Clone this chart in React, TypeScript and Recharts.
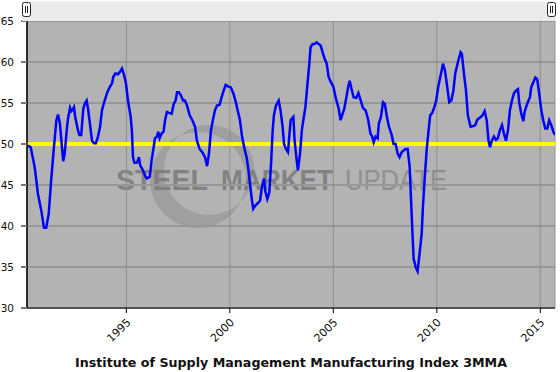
import React from 'react';
import { LineChart, Line, XAxis, YAxis, CartesianGrid, ReferenceLine } from 'recharts';

// ISM Manufacturing Index, 3-month moving average (decimal year, index value)
const years: number[] = [
  1990.25, 1990.38, 1990.57, 1990.73, 1990.89, 1991.02, 1991.13, 1991.25, 1991.38, 1991.50,
  1991.62, 1991.70, 1991.79, 1991.89, 1991.95, 1992.02, 1992.12, 1992.18, 1992.28, 1992.34,
  1992.41, 1992.47, 1992.53, 1992.66, 1992.73, 1992.82, 1992.92, 1992.99, 1993.08, 1993.15,
  1993.24, 1993.34, 1993.44, 1993.53, 1993.63, 1993.73, 1993.82, 1993.95, 1994.08, 1994.21,
  1994.31, 1994.37, 1994.47, 1994.60, 1994.69, 1994.79, 1994.89, 1994.98, 1995.08, 1995.21,
  1995.27, 1995.32, 1995.39, 1995.51, 1995.61, 1995.67, 1995.80, 1995.93, 1996.00, 1996.13,
  1996.22, 1996.32, 1996.38, 1996.48, 1996.54, 1996.61, 1996.71, 1996.80, 1996.87, 1996.96,
  1997.06, 1997.19, 1997.29, 1997.38, 1997.45, 1997.54, 1997.64, 1997.74, 1997.83, 1997.93,
  1998.06, 1998.19, 1998.32, 1998.41, 1998.54, 1998.67, 1998.80, 1998.90, 1998.99, 1999.09,
  1999.18, 1999.28, 1999.38, 1999.51, 1999.60, 1999.70, 1999.80, 1999.93, 2000.05, 2000.18,
  2000.31, 2000.36, 2000.49, 2000.59, 2000.71, 2000.81, 2000.88, 2000.97, 2001.07, 2001.13,
  2001.23, 2001.36, 2001.46, 2001.55, 2001.65, 2001.71, 2001.81, 2001.91, 2002.00, 2002.07,
  2002.13, 2002.23, 2002.36, 2002.45, 2002.55, 2002.62, 2002.71, 2002.81, 2002.87, 2002.94,
  2003.00, 2003.07, 2003.13, 2003.23, 2003.29, 2003.39, 2003.48, 2003.55, 2003.65, 2003.74,
  2003.84, 2003.90, 2004.00, 2004.10, 2004.19, 2004.29, 2004.39, 2004.48, 2004.58, 2004.68,
  2004.77, 2004.87, 2005.00, 2005.13, 2005.26, 2005.35, 2005.45, 2005.53, 2005.63, 2005.72,
  2005.79, 2005.88, 2005.98, 2006.11, 2006.21, 2006.30, 2006.43, 2006.56, 2006.69, 2006.79,
  2006.88, 2006.95, 2007.04, 2007.14, 2007.20, 2007.30, 2007.40, 2007.49, 2007.59, 2007.69,
  2007.82, 2007.91, 2008.01, 2008.11, 2008.20, 2008.30, 2008.40, 2008.49, 2008.59, 2008.69,
  2008.75, 2008.81, 2008.88, 2008.98, 2009.07, 2009.17, 2009.27, 2009.33, 2009.43, 2009.52,
  2009.62, 2009.68, 2009.78, 2009.88, 2009.97, 2010.07, 2010.17, 2010.30, 2010.39, 2010.49,
  2010.60, 2010.70, 2010.80, 2010.89, 2011.02, 2011.15, 2011.21, 2011.31, 2011.41, 2011.50,
  2011.63, 2011.76, 2011.86, 2011.96, 2012.08, 2012.21, 2012.31, 2012.41, 2012.50, 2012.57,
  2012.66, 2012.76, 2012.86, 2012.95, 2013.05, 2013.15, 2013.24, 2013.34, 2013.44, 2013.53,
  2013.63, 2013.73, 2013.82, 2013.92, 2013.98, 2014.08, 2014.18, 2014.24, 2014.34, 2014.43,
  2014.50, 2014.56, 2014.66, 2014.76, 2014.85, 2014.95, 2015.05, 2015.14, 2015.24, 2015.34,
  2015.43, 2015.53, 2015.63, 2015.71,
];

const ismValues: number[] = [
  49.8, 49.6, 47.2, 43.9, 41.9, 39.8, 39.8, 41.5, 46.0, 49.6,
  52.9, 53.6, 52.5, 49.6, 47.9, 48.8, 51.7, 53.1, 54.4, 54.0,
  54.2, 54.5, 53.3, 51.7, 51.1, 51.1, 54.3, 54.9, 55.3, 54.3,
  52.5, 50.4, 50.1, 50.1, 50.9, 52.1, 54.1, 55.3, 56.3, 57.0,
  57.4, 58.2, 58.6, 58.5, 58.8, 59.2, 58.4, 57.4, 55.3, 53.3,
  51.5, 48.4, 47.7, 47.7, 48.4, 47.4, 46.8, 46.0, 45.8, 46.0,
  48.0, 49.6, 50.7, 50.9, 51.5, 50.7, 51.3, 51.5, 52.9, 53.9,
  53.8, 53.7, 54.9, 55.3, 56.3, 56.3, 55.9, 55.3, 55.3, 54.7,
  53.5, 52.9, 52.1, 50.4, 49.4, 49.0, 48.4, 47.3, 48.8, 51.7,
  52.9, 54.1, 54.7, 54.8, 55.7, 56.5, 57.2, 57.0, 56.9, 56.1,
  54.9, 54.3, 52.9, 50.9, 49.4, 48.4, 47.2, 45.2, 43.1, 42.1,
  42.5, 42.8, 43.1, 44.8, 45.8, 44.3, 43.3, 44.1, 48.0, 51.7,
  53.5, 54.7, 55.3, 54.1, 52.1, 50.0, 49.4, 49.0, 50.9, 52.9,
  53.1, 53.3, 50.4, 48.0, 46.8, 48.8, 51.7, 52.9, 54.5, 57.0,
  59.8, 61.8, 62.2, 62.2, 62.4, 62.2, 62.0, 61.2, 60.4, 59.8,
  58.2, 57.6, 57.0, 55.5, 54.3, 52.9, 53.7, 54.3, 55.7, 57.0,
  57.7, 56.7, 55.7, 55.6, 56.2, 55.5, 54.4, 54.1, 52.9, 51.3,
  50.9, 50.2, 50.9, 50.7, 52.5, 53.3, 55.1, 54.9, 53.3, 52.1,
  51.1, 50.0, 50.0, 48.8, 48.4, 49.0, 49.2, 49.4, 49.4, 47.2,
  43.5, 39.9, 36.0, 35.0, 34.5, 36.7, 39.1, 42.4, 46.4, 49.6,
  52.1, 53.5, 53.8, 54.5, 55.3, 57.0, 58.2, 59.8, 59.0, 57.2,
  55.1, 55.3, 56.5, 58.6, 60.0, 61.2, 61.0, 58.6, 56.5, 53.5,
  52.1, 52.2, 52.3, 53.0, 53.2, 53.5, 54.0, 52.9, 50.4, 49.6,
  50.4, 50.9, 50.5, 50.7, 51.7, 52.3, 51.3, 50.4, 51.7, 54.1,
  55.3, 56.2, 56.5, 56.7, 55.1, 53.7, 52.8, 53.9, 54.7, 55.3,
  55.7, 56.9, 57.5, 58.1, 57.9, 56.1, 54.1, 52.9, 51.9, 51.9,
  52.9, 52.3, 51.5, 51.1,
];

const yTicks: number[] = [30, 35, 40, 45, 50, 55, 60, 65];
const xTicks: number[] = [1995, 2000, 2005, 2010, 2015];
const xDomain: [number, number] = [1990.2, 2015.71];
const baseline = 50;
const title = 'Institute of Supply Management Manufacturing Index 3MMA';

const data = years.map((x, i) => ({ x, v: ismValues[i] }));

const W = 560;
const H = 372;
const PL = 27;
const PR = 555;
const PT = 21;
const PB = 308;

const FONT = '"DejaVu Sans", Verdana, sans-serif';

const XTick = (props: any) => {
  const { x, y, payload } = props;
  const ax = x + 5;
  const ay = y + 10;
  return (
    <text
      x={ax}
      y={ay}
      transform={`rotate(-45, ${ax}, ${ay})`}
      textAnchor="end"
      fontSize={11}
      fontFamily={FONT}
      fill="#111"
    >
      {payload.value}
    </text>
  );
};

const YTick = (props: any) => {
  const { x, y, payload } = props;
  return (
    <text x={x} y={y + 4} textAnchor="end" fontSize={10.5} fontFamily={FONT} fill="#111">
      {payload.value}
    </text>
  );
};

const Handle = ({ x }: { x: number }) => (
  <g>
    <rect x={x + 0.5} y={2.5} width={8} height={14} rx={2} ry={2} fill="#fff" stroke="#222" strokeWidth={1} />
    <line x1={x + 3.5} y1={6} x2={x + 3.5} y2={13} stroke="#222" strokeWidth={1} />
    <line x1={x + 5.5} y1={6} x2={x + 5.5} y2={13} stroke="#222" strokeWidth={1} />
  </g>
);

export default function App() {
  return (
    <div style={{ position: 'relative', width: W, height: H, background: '#fff' }}>
      <style>{'body{margin:0}'}</style>
      {/* background: plot area + watermark */}
      <svg width={W} height={H} style={{ position: 'absolute', left: 0, top: 0 }}>
        <rect x={PL} y={PT} width={PR - PL} height={PB - PT} fill="#b3b3b3" />
        <path
          fillRule="evenodd"
          fill="#8e8e8e"
          opacity={0.55}
          d={
            'M 246 180 A 48 48 0 1 1 150 180 A 48 48 0 1 1 246 180 Z ' +
            'M 254 170 A 45 45 0 1 0 164 170 A 45 45 0 1 0 254 170 Z'
          }
        />
        <text x={116} y={190} fontFamily='"Liberation Sans", Arial, sans-serif' fontWeight="bold" fontSize={29}
          fill="#7a7a7a" opacity={0.85} textLength={92} lengthAdjust="spacingAndGlyphs">STEEL</text>
        <text x={221} y={190} fontFamily='"Liberation Sans", Arial, sans-serif' fontWeight="bold" fontSize={29}
          fill="#7a7a7a" opacity={0.85} textLength={112} lengthAdjust="spacingAndGlyphs">MARKET</text>
        <text x={345} y={190} fontFamily='"Liberation Sans", Arial, sans-serif' fontSize={29}
          fill="#8a8a8a" opacity={0.85} textLength={102} lengthAdjust="spacingAndGlyphs">UPDATE</text>
      </svg>
      <div style={{ position: 'absolute', left: 0, top: 0 }}>
        <LineChart width={W} height={H} data={data} margin={{ top: PT, right: W - PR, bottom: 0, left: 0 }}>
          <CartesianGrid vertical={false} stroke="#989898" strokeWidth={2} />
          <CartesianGrid horizontal={false} stroke="#8e8e8e" strokeWidth={1} />
          <XAxis
            dataKey="x"
            type="number"
            domain={xDomain}
            ticks={xTicks}
            allowDataOverflow
            height={H - PB}
            tickSize={5}
            tickMargin={0}
            tick={<XTick />}
            axisLine={{ stroke: '#555', strokeWidth: 2 }}
            tickLine={{ stroke: '#000', strokeWidth: 1 }}
            interval={0}
          />
          <YAxis
            type="number"
            domain={[30, 65]}
            ticks={yTicks}
            width={PL}
            tickSize={6}
            tickMargin={7}
            tick={<YTick />}
            axisLine={{ stroke: '#000', strokeWidth: 1.5 }}
            tickLine={{ stroke: '#777', strokeWidth: 2 }}
            interval={0}
          />
          <ReferenceLine y={baseline} stroke="#ffff00" strokeWidth={4} />
          <Line
            type="linear"
            dataKey="v"
            stroke="#0000ff"
            strokeWidth={2.5}
            dot={false}
            isAnimationActive={false}
          />
        </LineChart>
      </div>
      {/* foreground: range bar + title */}
      <svg width={W} height={H} style={{ position: 'absolute', left: 0, top: 0, pointerEvents: 'none' }}>
        <rect x={22} y={1.5} width={PR + 1 - 22} height={PT - 1.5} fill="#ebebeb" />
        <Handle x={22} />
        <Handle x={547} />
        <text x={291} y={366.5} textAnchor="middle" fontFamily={FONT} fontWeight="bold" fontSize={12.5}
          fill="#111" textLength={432} lengthAdjust="spacingAndGlyphs">{title}</text>
      </svg>
    </div>
  );
}
